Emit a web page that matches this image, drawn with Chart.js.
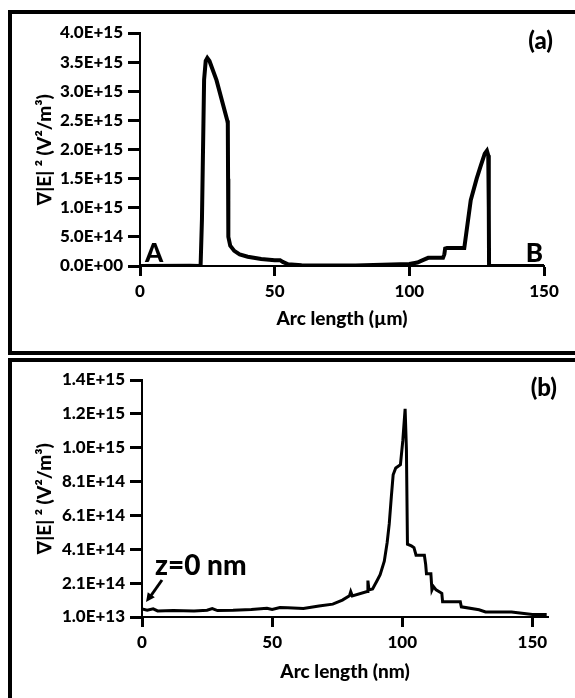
<!DOCTYPE html>
<html>
<head>
<meta charset="utf-8">
<script src="https://cdn.jsdelivr.net/npm/chart.js@4.4.1/dist/chart.umd.min.js"></script>
<style>
  body { margin: 0; background: #fff; width: 575px; height: 698px; overflow: hidden; position: relative; }
  .frame { position: absolute; border: 4px solid #000; box-sizing: border-box; }
  #frameA { left: 8px; top: 10px; width: 620px; height: 345px; }
  #frameB { left: 8px; top: 358px; width: 620px; height: 400px; }
  canvas { position: absolute; left: 0; }
  #chartA { top: 0; }
  #chartB { top: 350px; }
</style>
</head>
<body>
<div class="frame" id="frameA"></div>
<div class="frame" id="frameB"></div>
<canvas id="chartA" width="575" height="350"></canvas>
<canvas id="chartB" width="575" height="348"></canvas>
<script>
// panel (a): field gradient along arc, x in um
const arcA = [0, 18.5, 22.5, 23.0, 23.4, 23.8, 24.4, 25.0, 25.8, 28.4, 32.4, 32.6, 32.7, 32.8, 33.5, 35, 37, 40, 45, 50, 52, 53, 55, 60, 70, 80, 90, 100, 103, 105, 107, 112.5, 113, 113.3, 114, 120.4, 122.8, 125, 126.5, 128, 128.8, 129.3, 129.5, 129.6, 150];
const gradA = [0, 0.005e15, 0, 0.8e15, 2.0e15, 3.2e15, 3.52e15, 3.57e15, 3.52e15, 3.19e15, 2.5e15, 2.45e15, 1.5e15, 0.5e15, 0.35e15, 0.26e15, 0.2e15, 0.16e15, 0.12e15, 0.1e15, 0.1e15, 0.07e15, 0.03e15, 0.015e15, 0.01e15, 0.01e15, 0.02e15, 0.035e15, 0.06e15, 0.1e15, 0.14e15, 0.14e15, 0.2e15, 0.3e15, 0.31e15, 0.31e15, 1.13e15, 1.5e15, 1.72e15, 1.93e15, 1.98e15, 1.9e15, 1.0e15, 0, 0];
const xTicksA = [0, 50, 100, 150];
const yTicksA = [0, 5e14, 1e15, 1.5e15, 2e15, 2.5e15, 3e15, 3.5e15, 4e15];

// panel (b): x in nm
const arcB = [0, 2, 4.3, 6, 12, 20, 25, 27, 29, 35, 42, 48, 50, 53, 56, 62, 68, 73.3, 77, 79.7, 80.2, 80.8, 86.5, 86.8, 87.2, 88.6, 90.5, 91.5, 93.1, 94.2, 95, 95.8, 96.5, 97.5, 99.3, 100.2, 101.1, 101.6, 102, 103.5, 104.5, 105.3, 108.5, 109, 109.3, 111, 111.4, 112, 113, 115.2, 115.5, 122.3, 122.7, 129.5, 132, 142, 150, 155.5];
const gradB = [5.7e13, 5.0e13, 5.8e13, 4.6e13, 4.8e13, 4.5e13, 5.0e13, 6.0e13, 4.8e13, 5.0e13, 5.5e13, 6.2e13, 5.5e13, 6.6e13, 6.5e13, 6.0e13, 7.5e13, 8.6e13, 1.1e14, 1.35e14, 1.6e14, 1.35e14, 1.6e14, 2.25e14, 1.7e14, 1.75e14, 2.3e14, 2.6e14, 3.4e14, 4.5e14, 5.6e14, 7.2e14, 8.5e14, 8.9e14, 9.1e14, 1.05e15, 1.24e15, 1.0e15, 4.4e14, 4.3e14, 4.2e14, 3.75e14, 3.75e14, 3.2e14, 2.65e14, 2.65e14, 1.7e14, 1.9e14, 1.7e14, 1.5e14, 1.0e14, 1.0e14, 7e13, 5.3e13, 4.0e13, 4.0e13, 2.5e13, 2.5e13];
const xTicksB = [0, 50, 100, 150];
const yTicksB = [1e13, 2.1e14, 4.1e14, 6.1e14, 8.1e14, 1.01e15, 1.21e15, 1.41e15];

const FONT = 'Lato';
const WEIGHT = '900';
const yTitle = '\u2207|E| \u00b2 (V\u00b2/m\u00b3)';

function sci(v) {
    const s = Number(v).toExponential(1).toUpperCase();
    const parts = s.split('E');
    let exp = parts[1];
    const sign = exp[0];
    let digits = exp.slice(1);
    if (digits.length < 2) digits = '0' + digits;
    return parts[0] + 'E' + sign + digits;
}

function makeChart(id, xs, ys, opt) {
    const pts = xs.map((x, i) => ({ x: x, y: ys[i] }));
    const labelsPlugin = {
        id: 'labels_' + id,
        afterDraw(chart) {
            const c = chart.ctx;
            const sx = chart.scales.x, sy = chart.scales.y;
            const area = chart.chartArea;
            c.save();
            c.fillStyle = '#000';
            c.font = WEIGHT + ' 24px ' + FONT;
            c.textAlign = 'right';
            c.textBaseline = 'middle';
            c.fillText(opt.panel, area.right + 9, area.top + 8);
            opt.extra(c, sx, sy, area);
            c.restore();
        }
    };
    const tickFont = { family: FONT, size: 17, weight: WEIGHT };
    const titleFont = { family: FONT, size: 19, weight: WEIGHT };
    return new Chart(document.getElementById(id), {
        type: 'line',
        data: {
            datasets: [{
                data: pts,
                borderColor: '#000',
                borderWidth: opt.lw,
                pointRadius: 0,
                tension: 0,
                fill: false
            }]
        },
        options: {
            responsive: false,
            animation: false,
            layout: { padding: opt.pad },
            plugins: { legend: { display: false }, tooltip: { enabled: false } },
            scales: {
                x: {
                    type: 'linear',
                    min: opt.xmin, max: opt.xmax,
                    afterBuildTicks: (s) => { s.ticks = opt.xticks.map(v => ({ value: v })); },
                    afterFit: (s) => { s.height = opt.xh; },
                    border: { display: true, color: '#000', width: 2 },
                    grid: { drawOnChartArea: false, tickLength: 10, tickWidth: 3, tickColor: '#000' },
                    ticks: { color: '#000', font: tickFont, padding: 5, maxRotation: 0 },
                    title: { display: true, text: opt.xTitle, color: '#000', font: titleFont, padding: 0 }
                },
                y: {
                    type: 'linear',
                    min: opt.ymin, max: opt.ymax,
                    afterBuildTicks: (s) => { s.ticks = opt.yticks.map(v => ({ value: v })); },
                    afterFit: (s) => { s.width = opt.yw; },
                    border: { display: true, color: '#000', width: 2 },
                    grid: { drawOnChartArea: false, tickLength: 12, tickWidth: 3, tickColor: '#000' },
                    ticks: { color: '#000', font: tickFont, padding: 5, callback: (v) => sci(v) },
                    title: { display: true, text: yTitle, color: '#000', font: titleFont, padding: 0 }
                }
            }
        },
        plugins: [labelsPlugin]
    });
}

function draw() {
    makeChart('chartA', arcA, gradA, {
        panel: '(a)', lw: 4,
        xmin: 0, xmax: 150, xticks: xTicksA, xTitle: 'Arc length (\u00b5m)',
        ymin: 0, ymax: 4e15, yticks: yTicksA,
        pad: { left: 33, top: 33, right: 31, bottom: 20 }, xh: 64, yw: 107,
        extra(c, sx, sy) {
            c.font = WEIGHT + ' 26px ' + FONT;
            c.textBaseline = 'alphabetic';
            c.textAlign = 'left';
            c.fillText('A', sx.getPixelForValue(0) + 5, sy.getPixelForValue(0) - 4);
            c.textAlign = 'right';
            c.fillText('B', sx.getPixelForValue(150) - 1, sy.getPixelForValue(0) - 4);
        }
    });
    makeChart('chartB', arcB, gradB, {
        panel: '(b)', lw: 3,
        xmin: 0, xmax: 156, xticks: xTicksB, xTitle: 'Arc length (nm)',
        ymin: 1e13, ymax: 1.41e15, yticks: yTicksB,
        pad: { left: 33, top: 30, right: 27, bottom: 15 }, xh: 66, yw: 109,
        extra(c, sx, sy) {
            const ox = sx.getPixelForValue(0), oy = sy.getPixelForValue(1e13);
            c.font = WEIGHT + ' 28px ' + FONT;
            c.textBaseline = 'alphabetic';
            c.textAlign = 'left';
            c.fillText('z=0 nm', ox + 13, oy - 42);
            // arrow to the start of the arc
            const x1 = ox + 20, y1 = oy - 37, x2 = ox + 4, y2 = oy - 15;
            c.strokeStyle = '#000';
            c.lineWidth = 3;
            c.beginPath();
            c.moveTo(x1, y1);
            c.lineTo(x2 + 4, y2 - 5);
            c.stroke();
            const a = Math.atan2(y2 - y1, x2 - x1);
            c.beginPath();
            c.moveTo(x2, y2);
            c.lineTo(x2 - 10 * Math.cos(a - 0.45), y2 - 10 * Math.sin(a - 0.45));
            c.lineTo(x2 - 10 * Math.cos(a + 0.45), y2 - 10 * Math.sin(a + 0.45));
            c.closePath();
            c.fill();
        }
    });
}

if (document.fonts && document.fonts.load) {
    Promise.all([document.fonts.load('900 16px Lato'), document.fonts.load('bold 16px Lato')]).then(draw, draw);
} else {
    draw();
}
</script>
</body>
</html>
